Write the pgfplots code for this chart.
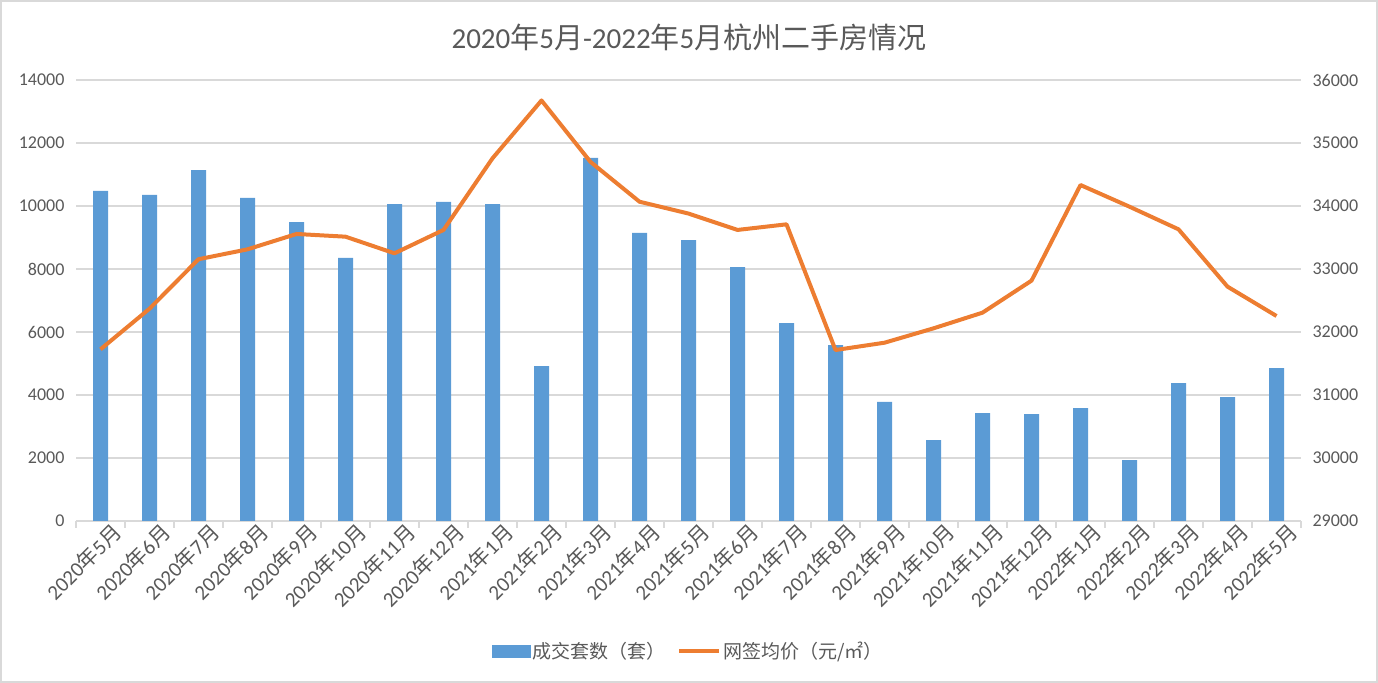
\documentclass[border=0pt]{standalone}
\usepackage{fontspec}
\setmainfont{Carlito}
\newfontfamily\cjk{Noto Sans CJK SC}
\usepackage{pgfplots}
\pgfplotsset{compat=1.18}
\definecolor{barblue}{HTML}{5B9BD5}
\definecolor{lineorange}{HTML}{ED7D31}
\definecolor{txtgray}{HTML}{595959}
\definecolor{gridgray}{HTML}{D9D9D9}
\newcommand\ym[2]{#1{\cjk 年}#2{\cjk 月}}

\pgfplotstableread{
x count price
0  10480 31725
1  10350 32370
2  11140 33155
3  10255 33312
4  9490  33556
5  8350  33513
6  10060 33249
7  10130 33620
8  10060 34757
9  4920  35675
10 11525 34700
11 9145  34068
12 8920  33880
13 8060  33620
14 6285  33709
15 5580  31714
16 3780  31830
17 2570  32058
18 3425  32307
19 3395  32815
20 3585  34333
21 1935  33989
22 4380  33630
23 3935  32720
24 4855  32254
}\datatable

\pgfplotsset{
  common/.style={
    scale only axis,
    width=1225bp, height=441bp,
    at={(76bp,162bp)}, anchor=south west,
    xmin=-0.5, xmax=24.5,
    scaled y ticks=false,
    ticklabel style={text=txtgray},
    yticklabel style={font=\fontsize{18bp}{20bp}\selectfont},
    /pgf/number format/assume math mode=true,
    /pgf/number format/set thousands separator={},
    major tick length=0pt,
  },
}

\begin{document}
\begin{tikzpicture}
\draw[gridgray, line width=2bp] (1bp,1bp) rectangle (1377bp,682bp);
\node[text=txtgray, font=\fontsize{29bp}{32bp}\selectfont] at (689bp,646bp)
  {2020{\cjk 年}5{\cjk 月}-2022{\cjk 年}5{\cjk 月}{\cjk 杭州二手房情况}};

\begin{axis}[
  common,
  ymin=0, ymax=14000, ytick distance=2000,
  axis x line*=bottom, axis y line*=left,
  x axis line style={draw=gridgray, line width=1.5bp},
  y axis line style={draw=none},
  ymajorgrids, grid style={gridgray, line width=1.5bp},
  xtick={0,...,24},
  minor xtick={-0.5,0.5,...,24.5},
  minor tick length=7bp, tick align=outside,
  minor tick style={gridgray, line width=1.5bp},
  xticklabels={\ym{2020}{5},\ym{2020}{6},\ym{2020}{7},\ym{2020}{8},\ym{2020}{9},\ym{2020}{10},\ym{2020}{11},\ym{2020}{12},\ym{2021}{1},\ym{2021}{2},\ym{2021}{3},\ym{2021}{4},\ym{2021}{5},\ym{2021}{6},\ym{2021}{7},\ym{2021}{8},\ym{2021}{9},\ym{2021}{10},\ym{2021}{11},\ym{2021}{12},\ym{2022}{1},\ym{2022}{2},\ym{2022}{3},\ym{2022}{4},\ym{2022}{5}},
  xticklabel style={rotate=45, anchor=north east, inner sep=1bp, xshift=8bp, yshift=-6bp, font=\fontsize{21bp}{23bp}\selectfont},
  yticklabel style={xshift=-8bp},
]
\addplot[ybar, bar width=15bp, fill=barblue, draw=none] table[x=x, y=count] {\datatable};
\end{axis}

\begin{axis}[
  common,
  ymin=29000, ymax=36000, ytick distance=1000,
  axis x line=none, axis y line*=right,
  y axis line style={draw=none},
  yticklabel style={xshift=8bp},
  legend columns=2,
  legend style={at={(0.5,-0.295)}, anchor=center, draw=none, fill=none,
    font=\fontsize{19bp}{21bp}\selectfont, text=txtgray,
    /tikz/every even column/.append style={column sep=10bp}},
]
\addlegendimage{legend image code/.code={\fill[barblue] (0bp,-6bp) rectangle (38bp,6bp);}}
\addlegendentry{\cjk 成交套数（套）}
\addplot[lineorange, line width=4bp, line join=round, no markers,
  legend image code/.code={\draw[lineorange, line width=4bp] (0bp,0bp) -- (40bp,0bp);}]
  table[x=x, y=price] {\datatable};
\addlegendentry{\cjk 网签均价（元/㎡）}
\end{axis}
\end{tikzpicture}
\end{document}
